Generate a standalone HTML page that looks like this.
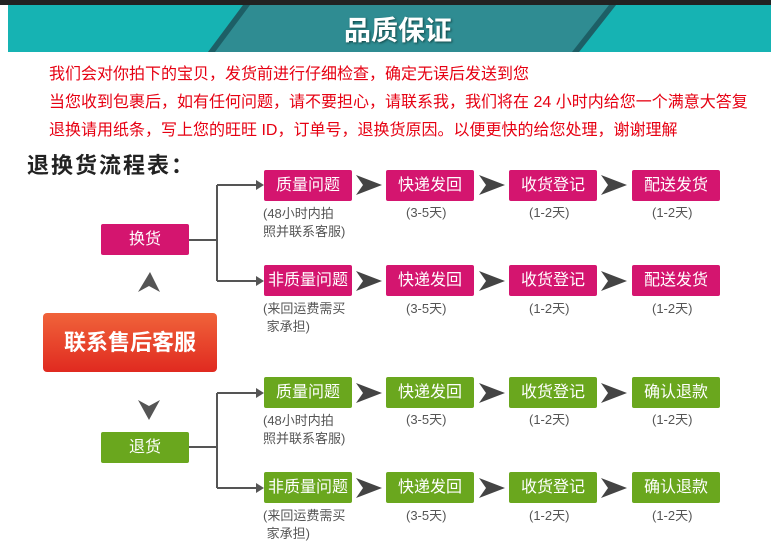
<!DOCTYPE html>
<html><head><meta charset="utf-8"><style>
body{margin:0;width:771px;height:529px;background:#fff;position:relative;overflow:hidden;font-family:"Liberation Sans","Noto Sans CJK SC",sans-serif}
.a{position:absolute}
.b{position:absolute;height:31px;line-height:31px;text-align:center;color:#fff;font-size:16px;border-radius:2px;width:88px}
.p{background:#d4156f}.g{background:#6aa71e}
.s{position:absolute;font-size:13px;color:#555;line-height:18px}
.r{position:absolute;left:49px;color:#e60012;font-size:16px;line-height:20px;white-space:nowrap}
</style></head><body>
<div class="a" style="left:0;top:0;width:771px;height:5px;background:#222"></div>
<div class="a" style="left:8px;top:5px;width:763px;height:47px;background:#16b3b3"></div>
<svg class="a" style="left:0;top:0" width="771" height="52"><polygon points="243,5 616,5 579,52 208,52" fill="#2f8c92"/><polygon points="243,5 250,5 215,52 208,52" fill="#1d5f66"/><polygon points="609,5 616,5 579,52 572,52" fill="#1d5f66"/></svg>
<div class="a" style="left:318px;top:12px;width:160px;text-align:center;color:#fff;font-size:27px;font-weight:bold;line-height:38px;text-shadow:1px 1px 2px #144">品质保证</div>
<div class="r" style="top:65px">我们会对你拍下的宝贝，发货前进行仔细检查，确定无误后发送到您</div>
<div class="r" style="top:93px">当您收到包裹后，如有任何问题，请不要担心，请联系我，我们将在 24 小时内给您一个满意大答复</div>
<div class="r" style="top:121px">退换请用纸条，写上您的旺旺 ID，订单号，退换货原因。以便更快的给您处理，谢谢理解</div>
<div class="a" style="left:27px;top:148px;font-size:22px;font-weight:bold;color:#222;letter-spacing:2px">退换货流程表：</div>
<svg class="a" style="left:0;top:0" width="771" height="529">
<g stroke="#555" stroke-width="2" fill="none">
<path d="M189 240H217M217 185V281M217 185H258M217 281H258"/>
<path d="M189 447H217M217 393V488M217 393H258M217 488H258"/>
</g>
<g fill="#555">
<polygon points="256,180 264,185 256,190"/><polygon points="256,276 264,281 256,286"/>
<polygon points="256,388 264,393 256,398"/><polygon points="256,483 264,488 256,493"/>
<polygon points="138,292 150,272 160,292 149,286"/>
<polygon points="138,400 149,406 160,400 149,420"/>
</g>
<g fill="#444">
<g id="c"><polygon points="356,175 382,185 356,195 363,185"/><polygon points="479,175 505,185 479,195 486,185"/><polygon points="601,175 627,185 601,195 608,185"/></g>
<use href="#c" y="96"/><use href="#c" y="208"/><use href="#c" y="303"/>
</g>
</svg>
<div class="b p" style="left:101px;top:224px">换货</div>
<div class="b g" style="left:101px;top:432px">退货</div>
<div class="a" style="left:43px;top:313px;width:174px;height:59px;border-radius:4px;background:linear-gradient(#f0633a,#e02a20);color:#fff;font-size:22px;font-weight:bold;text-align:center;line-height:59px">联系售后客服</div>

<div class="b p" style="left:264px;top:170px">质量问题</div>
<div class="b p" style="left:264px;top:265px">非质量问题</div>
<div class="b g" style="left:264px;top:377px">质量问题</div>
<div class="b g" style="left:264px;top:472px">非质量问题</div>

<div class="b p" style="left:386px;top:170px">快递发回</div><div class="b p" style="left:509px;top:170px">收货登记</div><div class="b p" style="left:632px;top:170px">配送发货</div>
<div class="b p" style="left:386px;top:265px">快递发回</div><div class="b p" style="left:509px;top:265px">收货登记</div><div class="b p" style="left:632px;top:265px">配送发货</div>
<div class="b g" style="left:386px;top:377px">快递发回</div><div class="b g" style="left:509px;top:377px">收货登记</div><div class="b g" style="left:632px;top:377px">确认退款</div>
<div class="b g" style="left:386px;top:472px">快递发回</div><div class="b g" style="left:509px;top:472px">收货登记</div><div class="b g" style="left:632px;top:472px">确认退款</div>

<div class="s" style="left:263px;top:205px">(48小时内拍<br>照并联系客服)</div>
<div class="s" style="left:263px;top:300px">(来回运费需买<br>&nbsp;家承担)</div>
<div class="s" style="left:263px;top:412px">(48小时内拍<br>照并联系客服)</div>
<div class="s" style="left:263px;top:507px">(来回运费需买<br>&nbsp;家承担)</div>

<div class="s" style="left:406px;top:204px">(3-5天)</div><div class="s" style="left:529px;top:204px">(1-2天)</div><div class="s" style="left:652px;top:204px">(1-2天)</div>
<div class="s" style="left:406px;top:300px">(3-5天)</div><div class="s" style="left:529px;top:300px">(1-2天)</div><div class="s" style="left:652px;top:300px">(1-2天)</div>
<div class="s" style="left:406px;top:411px">(3-5天)</div><div class="s" style="left:529px;top:411px">(1-2天)</div><div class="s" style="left:652px;top:411px">(1-2天)</div>
<div class="s" style="left:406px;top:507px">(3-5天)</div><div class="s" style="left:529px;top:507px">(1-2天)</div><div class="s" style="left:652px;top:507px">(1-2天)</div>
</body></html>
